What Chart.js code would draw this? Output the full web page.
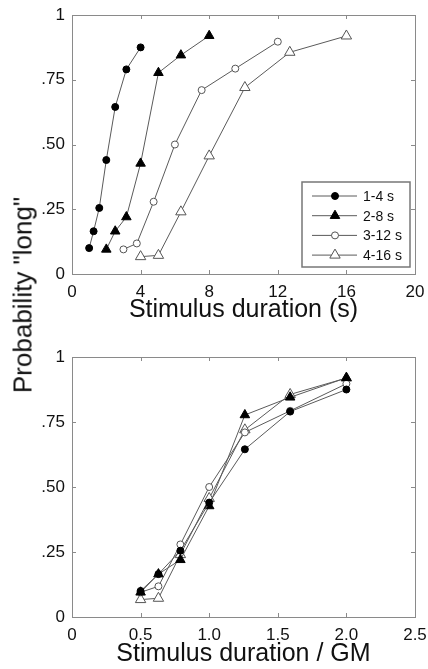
<!DOCTYPE html>
<html>
<head>
<meta charset="utf-8">
<script src="https://cdn.jsdelivr.net/npm/chart.js@4/dist/chart.umd.min.js"></script>
<style>
  html, body { margin: 0; padding: 0; background: #fff; }
  body { width: 428px; height: 669px; position: relative; overflow: hidden; }
  canvas { position: absolute; left: 0; }
  #top { top: 0; }
  #bottom { top: 335px; }
  .ylabel {
    position: absolute; left: 23px; top: 295px;
    transform: translate(-50%, -50%) rotate(-90deg);
    font: 26px "Liberation Sans", Arial, sans-serif; color: #111; white-space: nowrap;
  }
</style>
</head>
<body>
<canvas id="top" width="428" height="335"></canvas>
<canvas id="bottom" width="428" height="334"></canvas>
<div class="ylabel">Probability "long"</div>
<script>
// series labels
const seriesNames = ['1-4 s', '2-8 s', '3-12 s', '4-16 s'];

// stimulus durations (s) per range
const dur14 = [1.0, 1.26, 1.59, 2.0, 2.52, 3.17, 4.0];
const dur28 = [2.0, 2.52, 3.17, 4.0, 5.04, 6.35, 8.0];
const dur312 = [3.0, 3.78, 4.76, 6.0, 7.56, 9.52, 12.0];
const dur416 = [4.0, 5.04, 6.35, 8.0, 10.08, 12.7, 16.0];

// duration / geometric mean (same for every range)
const ratioGM = [0.5, 0.63, 0.79, 1.0, 1.26, 1.59, 2.0];

// probability of "long" response
const p14 = [0.10, 0.165, 0.255, 0.44, 0.645, 0.79, 0.875];
const p28 = [0.095, 0.165, 0.22, 0.427, 0.777, 0.845, 0.92];
const p312 = [0.095, 0.118, 0.279, 0.50, 0.71, 0.793, 0.897];
const p416 = [0.067, 0.072, 0.24, 0.456, 0.72, 0.856, 0.919];

// tick labels
const yTickLabels = ['0', '.25', '.50', '.75', '1'];
const xTickLabelsTop = ['0', '4', '8', '12', '16', '20'];
const xTickLabelsBottom = ['0', '0.5', '1.0', '1.5', '2.0', '2.5'];

Chart.defaults.font.family = '"Liberation Sans", Arial, sans-serif';
Chart.defaults.color = '#111';

const lineColor = '#5a5a5a';
const styles = [
  { pointStyle: 'circle', pointRadius: 3.5, pointBackgroundColor: '#000', pointBorderColor: '#000' },
  { pointStyle: 'triangle', pointRadius: 5.5, pointBackgroundColor: '#000', pointBorderColor: '#000' },
  { pointStyle: 'circle', pointRadius: 3.5, pointBackgroundColor: '#fff', pointBorderColor: '#555' },
  { pointStyle: 'triangle', pointRadius: 6, pointBackgroundColor: '#fff', pointBorderColor: '#555' }
];

function pts(xs, ys) {
  return xs.map((x, i) => ({ x: x, y: ys[i] }));
}

function makeDatasets(xLists, yLists) {
  return yLists.map((ys, k) => Object.assign({
    label: seriesNames[k],
    data: pts(xLists[k], ys),
    showLine: true,
    borderColor: lineColor,
    borderWidth: 1,
    pointBorderWidth: 1,
    pointHoverRadius: 0
  }, styles[k]));
}

// box round the plot and inward tick marks on all four sides
const boxTicks = {
  id: 'boxTicks',
  afterDatasetsDraw(chart) {
    const { ctx, chartArea: a, scales } = chart;
    ctx.save();
    ctx.strokeStyle = '#8a8a8a';
    ctx.lineWidth = 1;
    ctx.strokeRect(a.left + 0.5, a.top + 0.5, a.right - a.left, a.bottom - a.top);
    ctx.beginPath();
    scales.x.ticks.forEach(t => {
      const px = Math.round(scales.x.getPixelForValue(t.value)) + 0.5;
      ctx.moveTo(px, a.bottom); ctx.lineTo(px, a.bottom - 4);
      ctx.moveTo(px, a.top); ctx.lineTo(px, a.top + 4);
    });
    scales.y.ticks.forEach(t => {
      const py = Math.round(scales.y.getPixelForValue(t.value)) + 0.5;
      ctx.moveTo(a.left, py); ctx.lineTo(a.left + 4, py);
      ctx.moveTo(a.right, py); ctx.lineTo(a.right - 4, py);
    });
    ctx.stroke();
    ctx.restore();
  }
};

// legend box in the lower right corner of the top panel
const cornerLegend = {
  id: 'cornerLegend',
  afterDraw(chart) {
    const { ctx, chartArea: a } = chart;
    const w = 108, h = 85;
    const x0 = a.right - 5 - w, y0 = a.bottom - 7 - h;
    ctx.save();
    ctx.fillStyle = '#fff';
    ctx.fillRect(x0, y0, w, h);
    ctx.strokeStyle = '#777';
    ctx.lineWidth = 1.5;
    ctx.strokeRect(x0, y0, w, h);
    chart.data.datasets.forEach((ds, i) => {
      const y = y0 + 14 + i * 19.7;
      ctx.strokeStyle = lineColor;
      ctx.lineWidth = 1;
      ctx.beginPath();
      ctx.moveTo(x0 + 10, y); ctx.lineTo(x0 + 55, y);
      ctx.stroke();
      ctx.fillStyle = ds.pointBackgroundColor;
      ctx.strokeStyle = ds.pointBorderColor;
      Chart.helpers.drawPoint(ctx, { pointStyle: ds.pointStyle, radius: ds.pointRadius, rotation: 0, borderWidth: 1 }, x0 + 33, y);
      ctx.fillStyle = '#111';
      ctx.font = '14px "Liberation Sans", Arial, sans-serif';
      ctx.textBaseline = 'middle';
      ctx.fillText(ds.label, x0 + 61, y + 1);
    });
    ctx.restore();
  }
};

function makeOptions(opt) {
  return {
    responsive: false,
    animation: false,
    layout: { padding: { top: opt.padTop, right: 13, left: 0, bottom: 0 } },
    plugins: { legend: { display: false }, tooltip: { enabled: false } },
    scales: {
      x: {
        type: 'linear', min: opt.xMin, max: opt.xMax,
        grid: { display: false, drawTicks: false }, border: { display: false },
        ticks: { stepSize: opt.xStep, font: { size: 17 }, padding: 8, maxRotation: 0,
          callback: (v, i) => opt.xLabels[i] },
        title: { display: true, text: opt.xTitle, font: { size: 25 }, padding: { top: 0, bottom: opt.titlePad } },
        afterFit: s => { s.height = opt.xHeight; s.paddingLeft = 0; s.paddingRight = 0; }
      },
      y: {
        min: 0, max: 1,
        grid: { display: false, drawTicks: false }, border: { display: false },
        ticks: { stepSize: 0.25, font: { size: 17 }, padding: 7,
          callback: (v, i) => yTickLabels[i] },
        afterFit: s => { s.width = 72; s.paddingTop = 0; s.paddingBottom = 0; }
      }
    }
  };
}

new Chart(document.getElementById('top'), {
  type: 'scatter',
  data: { datasets: makeDatasets([dur14, dur28, dur312, dur416], [p14, p28, p312, p416]) },
  options: makeOptions({ padTop: 15, xMin: 0, xMax: 20, xStep: 4, xLabels: xTickLabelsTop,
    xTitle: 'Stimulus duration (s)', titlePad: 10, xHeight: 61 }),
  plugins: [boxTicks, cornerLegend]
});

new Chart(document.getElementById('bottom'), {
  type: 'scatter',
  data: { datasets: makeDatasets([ratioGM, ratioGM, ratioGM, ratioGM], [p14, p28, p312, p416]) },
  options: makeOptions({ padTop: 22, xMin: 0, xMax: 2.5, xStep: 0.5, xLabels: xTickLabelsBottom,
    xTitle: 'Stimulus duration / GM', titlePad: 0, xHeight: 52 }),
  plugins: [boxTicks]
});
</script>
</body>
</html>
